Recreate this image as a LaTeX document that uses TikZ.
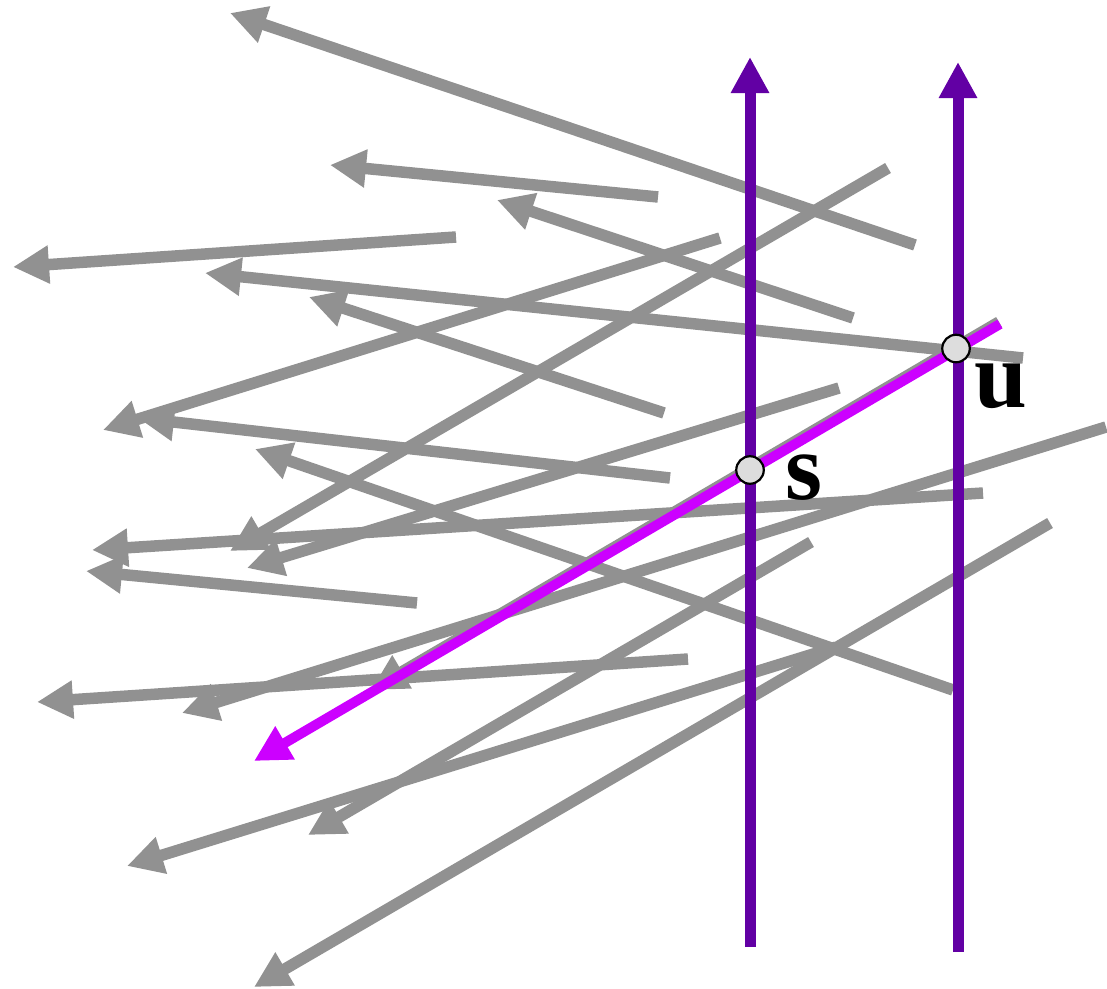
\documentclass[tikz,border=0pt]{standalone}
\usepackage{fontspec}
\setmainfont{Liberation Serif}
\usetikzlibrary{arrows.meta}
\definecolor{segment}{RGB}{145,145,145}
\definecolor{sweep}{RGB}{98,0,164}
\definecolor{query}{RGB}{204,0,255}
\definecolor{vertexfill}{RGB}{221,221,221}

\begin{document}
\begin{tikzpicture}[
	x=0.01cm, y=-0.01cm,
	>={Triangle[length=0.36cm, width=0.36cm]},
	% Styles for the segments, the two vertical lines and the marked points
	segline/.style={draw=segment, line width=0.115cm, ->},
	sweepline/.style={draw=sweep, line width=0.11cm, ->},
	queryline/.style={draw=query, line width=0.1cm, ->},
	vertex/.style={circle, draw=black, line width=0.022cm, fill=vertexfill, minimum size=0.275cm, inner sep=0pt},
	vertexlabel/.style={font=\fontsize{27pt}{30pt}\selectfont\bfseries, inner sep=0pt}
	]
	\useasboundingbox (0,0) rectangle (1107,988);
	
	% ==========================================
	% 1. GRAY SEGMENTS (start / tip)
	% ==========================================
	\foreach \ax/\ay/\bx/\by in {
		915/245/230/13, 658/197/330/165, 456/237/13/267,
		853/318/497/200, 1023/358/205/273, 664/413/309/297,
		888/168/230/551, 720/238/103/430, 670/478/138/418,
		953/690/255/449, 983/493/92/550, 839/388/247/568,
		417/603/86/571, 1106/427/182/713, 811/542/308/835,
		1050/523/254/987, 688/659/37/702, 836/647/127/866}
		\draw[segline] (\ax,\ay) -- (\bx,\by);
	
	% Segment lying under the highlighted one
	\draw[segline] (999,322) -- (371,690);
	
	% ==========================================
	% 2. VERTICAL LINES
	% ==========================================
	\draw[sweepline] (750,947) -- (750,57);
	\draw[sweepline] (958,952) -- (958,62);
	
	% ==========================================
	% 3. HIGHLIGHTED SEGMENT WITH s AND u
	% ==========================================
	\draw[queryline] (1000,324) -- (254,761);
	
	\node[vertex] (s) at (750,470) {};
	\node[vertex] (u) at (956,348.5) {};
	\node[vertexlabel] (slabel) at (804,478) {s};
	\node[vertexlabel] (ulabel) at (1001,386) {u};
	
\end{tikzpicture}
\end{document}
